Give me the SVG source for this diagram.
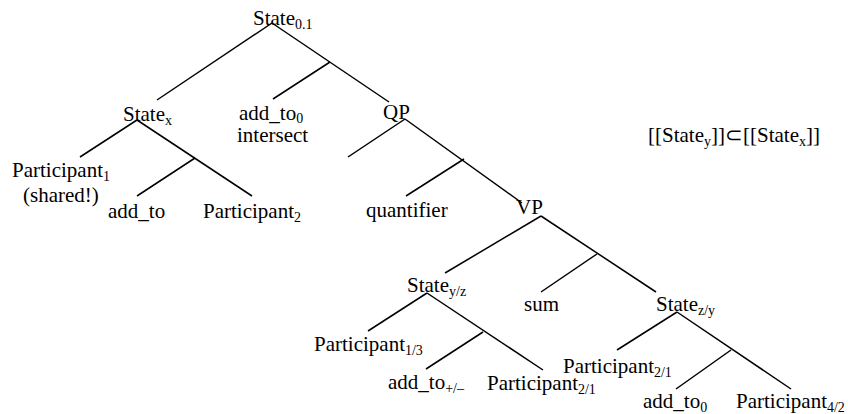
<svg xmlns="http://www.w3.org/2000/svg" width="848" height="414" viewBox="0 0 848 414">
<style>
text{font-family:"Liberation Serif","Times New Roman",serif;font-size:21px;fill:#000}
.s{font-size:14px}
.c line{stroke:#000;stroke-width:1.5;stroke-linecap:butt}
</style>
<rect width="848" height="414" fill="#fff"/>
<g class="c" id="connectors">
<line x1="272" y1="23" x2="157" y2="100"/>
<line x1="272" y1="23" x2="389" y2="102"/>
<line x1="330" y1="62" x2="273" y2="99"/>
<line x1="137" y1="120" x2="80" y2="157"/>
<line x1="137" y1="120" x2="252" y2="196"/>
<line x1="195" y1="158" x2="137" y2="196"/>
<line x1="405" y1="119" x2="348" y2="157"/>
<line x1="405" y1="119" x2="522" y2="203"/>
<line x1="464" y1="159" x2="406" y2="196"/>
<line x1="541" y1="216" x2="445" y2="273"/>
<line x1="541" y1="216" x2="656" y2="292"/>
<line x1="597" y1="254" x2="541" y2="292"/>
<line x1="427" y1="293" x2="368" y2="331"/>
<line x1="427" y1="293" x2="543" y2="370"/>
<line x1="483" y1="332" x2="426" y2="369"/>
<line x1="677" y1="312" x2="617" y2="350"/>
<line x1="677" y1="312" x2="791" y2="389"/>
<line x1="731" y1="350" x2="676" y2="389"/>
</g>
<g id="state01"><text x="253" y="25">State<tspan class="s" dy="4">0.1</tspan></text></g>
<g id="statex"><text x="123" y="121">State<tspan class="s" dy="4">x</tspan></text></g>
<g id="addto0-intersect"><text x="239" y="120">add_to<tspan class="s" dy="3">0</tspan></text><text x="237" y="142">intersect</text></g>
<g id="qp"><text x="383" y="119">QP</text></g>
<g id="participant1"><text x="12" y="177">Participant<tspan class="s" dy="4">1</tspan></text><text x="23" y="202">(shared!)</text></g>
<g id="addto"><text x="108" y="218">add_to</text></g>
<g id="participant2"><text x="203" y="218">Participant<tspan class="s" dy="4">2</tspan></text></g>
<g id="quantifier"><text x="366" y="217">quantifier</text></g>
<g id="vp"><text x="516" y="214">VP</text></g>
<g id="stateyz"><text x="407" y="292">State<tspan class="s" dy="4">y/z</tspan></text></g>
<g id="sum"><text x="524" y="311">sum</text></g>
<g id="statezy"><text x="656" y="311">State<tspan class="s" dy="4">z/y</tspan></text></g>
<g id="participant13"><text x="314" y="351">Participant<tspan class="s" dy="4">1/3</tspan></text></g>
<g id="addtopm"><text x="388" y="389">add_to<tspan class="s" dy="4">+/–</tspan></text></g>
<g id="participant21a"><text x="487" y="390">Participant<tspan class="s" dy="4">2/1</tspan></text></g>
<g id="participant21b"><text x="563" y="373">Participant<tspan class="s" dy="4">2/1</tspan></text></g>
<g id="addto0b"><text x="643" y="408">add_to<tspan class="s" dy="4">0</tspan></text></g>
<g id="participant42"><text x="736" y="408">Participant<tspan class="s" dy="4">4/2</tspan></text></g>
<g id="formula"><text x="648" y="142">[[State<tspan class="s" dy="4">y</tspan><tspan dy="-4">]]⊂[[State</tspan><tspan class="s" dy="4">x</tspan><tspan dy="-4">]]</tspan></text></g>
</svg>
